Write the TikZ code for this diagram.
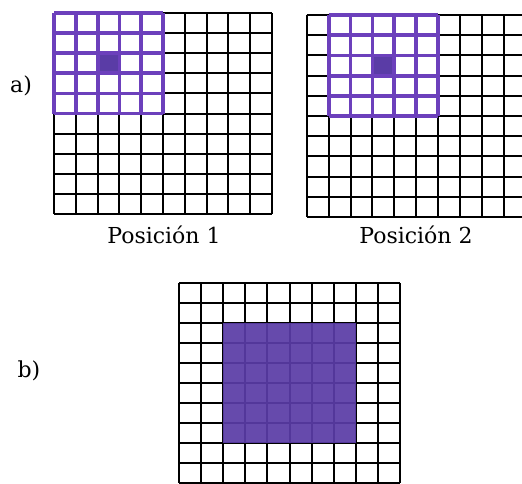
\documentclass[tikz,border=0pt]{standalone}
\usepackage{fontspec}
\setmainfont{DejaVu Serif}
\usetikzlibrary{positioning}
\definecolor{CellViolet}{HTML}{5A3CA6}
\definecolor{FrameViolet}{HTML}{6C40BC}

\begin{document}
\begin{tikzpicture}[
  x=1pt, y=-1pt,
  gridline/.style={line width=2pt, draw=black},
  window/.style={line width=3.8pt, draw=FrameViolet},
  centre/.style={fill=CellViolet},
  block/.style={fill=CellViolet, fill opacity=0.93},
  caption/.style={font=\rmfamily\fontsize{22}{27}\selectfont, anchor=base, inner sep=0pt}
]
\useasboundingbox (0,0) rectangle (522,483);
\clip (0,0) rectangle (522,483);

% a) position 1
\begin{scope}[shift={(54,13)}, x=21.8pt, y=-20.1pt]
  \fill[centre] (2,2) rectangle (3,3);
  \foreach \i in {0,...,10} {
    \draw[gridline] (\i,0) -- (\i,10);
    \draw[gridline] (0,\i) -- (10,\i);
  }
  \foreach \i in {0,...,5} {
    \draw[window] (\i,0) -- (\i,5);
    \draw[window] (0,\i) -- (5,\i);
  }
\end{scope}

% a) position 2
\begin{scope}[shift={(306.7,15)}, x=21.9pt, y=-20.2pt]
  \fill[centre] (3,2) rectangle (4,3);
  \foreach \i in {0,...,10} {
    \draw[gridline] (\i,0) -- (\i,10);
    \draw[gridline] (0,\i) -- (10,\i);
  }
  \foreach \i in {1,...,6} {
    \draw[window] (\i,0) -- (\i,5);
  }
  \foreach \i in {0,...,5} {
    \draw[window] (1,\i) -- (6,\i);
  }
\end{scope}

% b) whole block
\begin{scope}[shift={(179,283)}, x=22.1pt, y=-20pt]
  \foreach \i in {0,...,10} {
    \draw[gridline] (\i,0) -- (\i,10);
    \draw[gridline] (0,\i) -- (10,\i);
  }
  \fill[block] (2,2) rectangle (8,8);
\end{scope}

\node[caption] (labA) at (21,92) {a)};
\node[caption] (labB) at (29,377) {b)};
\node[caption] (posOne) at (164,243) {Posición 1};
\node[caption] (posTwo) at (416,243) {Posición 2};
\end{tikzpicture}
\end{document}
